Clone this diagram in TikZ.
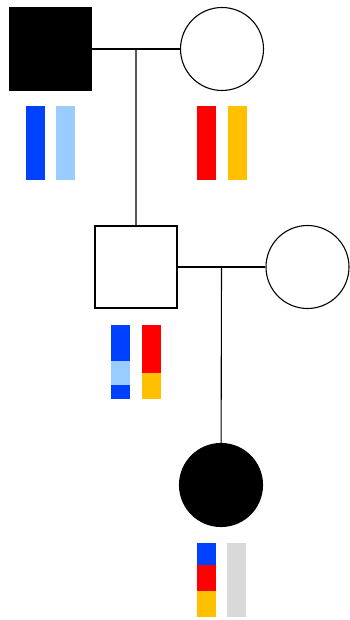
\documentclass[tikz,border=0pt]{standalone}
\usetikzlibrary{positioning, calc}

\definecolor{chrblue}{HTML}{0040FF}
\definecolor{chrlight}{HTML}{99CCFF}
\definecolor{chrred}{HTML}{FF0000}
\definecolor{chrgold}{HTML}{FFC000}
\definecolor{chrgrey}{HTML}{D9D9D9}

\begin{document}
\begin{tikzpicture}[
    x=1pt, y=-1pt,
    male/.style={draw, rectangle, minimum size=82pt, inner sep=0pt, line width=1.1pt},
    female/.style={draw, circle, minimum size=83pt, inner sep=0pt, line width=1.1pt},
    affected/.style={fill=black},
    seg/.style={rectangle, minimum width=19pt, inner sep=0pt, outer sep=0pt},
    link/.style={line width=1.1pt},
  ]
    \useasboundingbox (0,0) rectangle (349,620);

    % generation I
    \node[male, affected] (gf) at (50.5,49) {};
    \node[female] (gm) at (222,49) {};

    \node[seg, fill=chrblue,  minimum height=74pt, anchor=north] (gf1) at (35.5,106) {};
    \node[seg, fill=chrlight, minimum height=74pt, anchor=north] (gf2) at (65.5,106) {};
    \node[seg, fill=chrred,   minimum height=74pt, anchor=north] (gm1) at (206.5,106) {};
    \node[seg, fill=chrgold,  minimum height=74pt, anchor=north] (gm2) at (237.5,106) {};

    % generation II
    \node[male] (fa) at (136,267) {};
    \node[female] (sp) at (307.5,267) {};

    \node[seg, fill=chrblue,  minimum height=36pt, anchor=north] (fa1) at (120.5,325) {};
    \node[seg, fill=chrlight, minimum height=24pt, below=0pt of fa1] (fa1b) {};
    \node[seg, fill=chrblue,  minimum height=14pt, below=0pt of fa1b] (fa1c) {};
    \node[seg, fill=chrred,   minimum height=48pt, anchor=north] (fa2) at (151.5,325) {};
    \node[seg, fill=chrgold,  minimum height=26pt, below=0pt of fa2] (fa2b) {};

    % generation III
    \node[female, affected] (ch) at (221,485) {};

    \node[seg, fill=chrblue,  minimum height=22pt, anchor=north] (ch1) at (206.5,543) {};
    \node[seg, fill=chrred,   minimum height=26pt, below=0pt of ch1] (ch1b) {};
    \node[seg, fill=chrgold,  minimum height=26pt, below=0pt of ch1b] (ch1c) {};
    \node[seg, fill=chrgrey,  minimum height=74pt, anchor=north] (ch2) at (236.5,543) {};

    % lines
    \coordinate (m1) at ($(gf.east)!0.5!(gm.west)$);
    \coordinate (m2) at ($(fa.east)!0.5!(sp.west)$);
    \draw[link] (gf) -- (gm);
    \draw[link] (m1) -- (fa);
    \draw[link] (fa) -- (sp);
    \draw[link] (m2) -- (ch);
  \end{tikzpicture}
\end{document}
